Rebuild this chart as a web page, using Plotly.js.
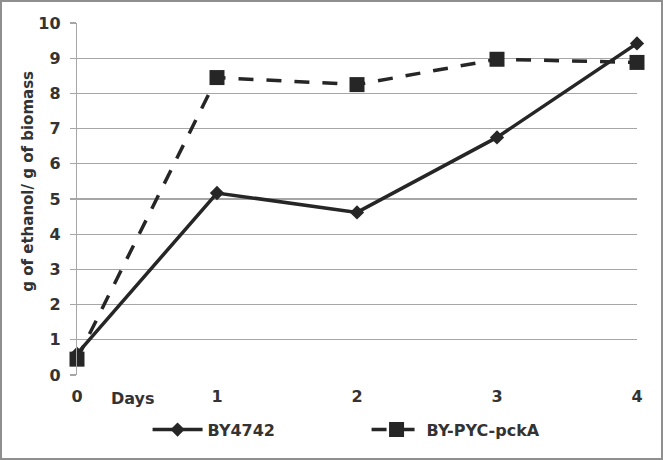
<!DOCTYPE html>
<html>
<head>
<meta charset="utf-8">
<script src="https://cdn.plot.ly/plotly-3.0.1.min.js"></script>
<style>
html,body{margin:0;padding:0;background:#fff;}
#wrap{width:663px;height:460px;box-sizing:border-box;border:2px solid #8f8f8f;background:#fff;}
#chart{width:659px;height:456px;}
</style>
</head>
<body>
<div id="wrap"><div id="chart"></div></div>
<script>
const days = [0, 1, 2, 3, 4];
const by4742 = [0.6, 5.17, 4.62, 6.75, 9.42];
const byPycPckA = [0.45, 8.45, 8.25, 8.97, 8.88];
const seriesNames = ["BY4742", "BY-PYC-pckA"];
const yTicks = [0,1,2,3,4,5,6,7,8,9,10];
const yTitle = "g of ethanol/ g of biomass";
const xLabel = "Days";

const ink = "#262626";
const fontBold = {family: "DejaVu Sans", size: 16, color: "#333", weight: "bold"};

const traces = [
  {
    x: days, y: by4742, name: seriesNames[0], type: "scatter", mode: "lines+markers",
    line: {color: ink, width: 3.5},
    marker: {symbol: "diamond", size: 11, color: ink},
    cliponaxis: false
  },
  {
    x: days, y: byPycPckA, name: seriesNames[1], type: "scatter", mode: "lines+markers",
    line: {color: ink, width: 3.5, dash: "15px,13px"},
    marker: {symbol: "square", size: 15, color: ink},
    cliponaxis: false
  }
];

const layout = {
  width: 659, height: 456,
  margin: {l: 75, r: 24, t: 21, b: 83, autoexpand: false},
  paper_bgcolor: "#fff", plot_bgcolor: "#fff",
  showlegend: true,
  legend: {
    orientation: "h", x: 0.126, xanchor: "left", y: -0.107, yanchor: "top",
    font: fontBold, itemwidth: 50, entrywidth: 154, entrywidthmode: "pixels",
    bgcolor: "rgba(0,0,0,0)"
  },
  xaxis: {
    range: [0, 4], tickvals: days, ticktext: days.map(String),
    showgrid: false, zeroline: false, showline: false, automargin: false,
    ticks: "", tickfont: fontBold, ticklabelstandoff: 10, fixedrange: true
  },
  yaxis: {
    range: [0, 10], tickvals: yTicks, automargin: false,
    showgrid: true, gridcolor: "#a6a6a6", gridwidth: 1.2,
    zeroline: false, showline: true, linecolor: "#a6a6a6", linewidth: 1.2,
    ticks: "outside", ticklen: 6, tickcolor: "#a6a6a6", tickwidth: 1.2,
    tickfont: fontBold, ticklabelstandoff: 6
  },
  annotations: [
    {x: 0.4, y: 0, xref: "x", yref: "y", text: xLabel, showarrow: false,
     yanchor: "top", yshift: -12, font: fontBold},
    {x: -0.088, y: 0.551, xref: "paper", yref: "paper", text: yTitle, showarrow: false,
     textangle: -90, xanchor: "center", yanchor: "middle",
     font: {family: "DejaVu Sans", size: 15, color: "#333", weight: "bold"}}
  ]
};

Plotly.newPlot("chart", traces, layout, {displayModeBar: false, staticPlot: true});
</script>
</body>
</html>
